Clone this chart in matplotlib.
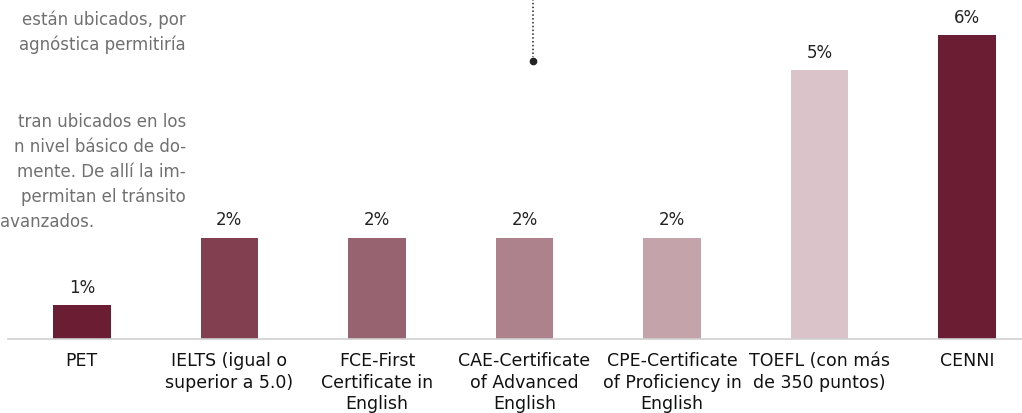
import numpy as np
import matplotlib.pyplot as plt

# exam categories and share of respondents (%)
categories = ['PET', 'IELTS (igual o\nsuperior a 5.0)', 'FCE-First\nCertificate in\nEnglish',
              'CAE-Certificate\nof Advanced\nEnglish', 'CPE-Certificate\nof Proficiency in\nEnglish',
              'TOEFL (con más\nde 350 puntos)', 'CENNI']
values = [0.61, 1.84, 1.84, 1.84, 1.84, 4.88, 5.52]
bar_colors = ['#6b1e33', '#823f50', '#976370', '#ae828d', '#c4a3ab', '#dbc4c9', '#6b1e33']

# fragment of the paragraph behind the chart
para_top = ['están ubicados, por', 'agnóstica permitiría']
para_bottom = ['tran ubicados en los', 'n nivel básico de do-', 'mente. De allí la im-',
               'permitan el tránsito']
para_last = 'avanzados.'

W, H = 1022, 414
fig = plt.figure(figsize=(W / 100, H / 100), dpi=100)
plt.rcParams['font.family'] = ['DejaVu Sans']

# background paragraph (in figure pixels)
for i, line in enumerate(para_top):
    fig.text(186 / W, 1 - (20 + 25 * i) / H, line, ha='right', va='center',
             fontsize=12, color='#707070')
for i, line in enumerate(para_bottom):
    fig.text(186 / W, 1 - (122 + 25 * i) / H, line, ha='right', va='center',
             fontsize=12, color='#707070')
fig.text(0 / W, 1 - 222 / H, para_last, ha='left', va='center', fontsize=12, color='#707070')

# dotted leader line with a dot
fig.add_artist(plt.Line2D([533 / W, 533 / W], [1.0, 1 - 58 / H], transform=fig.transFigure,
                          color='#222222', lw=1.1, linestyle=(0, (1, 1.5))))
fig.add_artist(plt.Line2D([533 / W], [1 - 62 / H], transform=fig.transFigure,
                          marker='o', markersize=4.5, color='#222222'))

# axes: spans 8px .. 1041px so the last slot is cut at the right edge
left = 8 / W
right = 1041 / W
bottom = (H - 340) / H
ax = fig.add_axes([left, bottom, right - left, 1 - bottom])
ax.patch.set_alpha(0)

x = np.arange(len(categories))
bars = ax.bar(x, values, width=0.39, color=bar_colors, zorder=2)
ax.set_xlim(-0.5, 6.5)
ax.set_ylim(0, 340 / (304 / 5.52))

for b, v in zip(bars, values):
    ax.text(b.get_x() + b.get_width() / 2, v + 0.33, '{:.0f}%'.format(v),
            ha='center', va='center', fontsize=12, color='#222222')

ax.set_xticks(x)
ax.set_xticklabels(categories, fontsize=12.5, color='#111111', linespacing=1.22)
ax.tick_params(axis='x', length=0, pad=9)
ax.set_yticks([])
for s in ['top', 'right', 'left']:
    ax.spines[s].set_visible(False)
ax.spines['bottom'].set_color('#d0d0d0')
ax.spines['bottom'].set_linewidth(1.2)

fig.savefig('out.png', dpi=100)
